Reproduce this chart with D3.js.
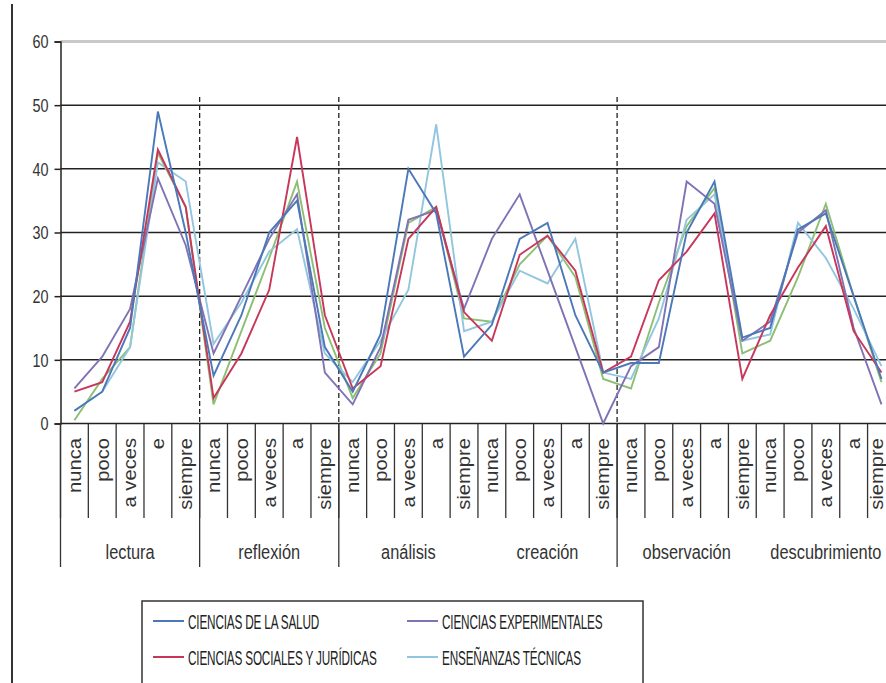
<!DOCTYPE html>
<html>
<head>
<meta charset="utf-8">
<script src="https://cdn.jsdelivr.net/npm/d3@7"></script>
<style>
  html, body { margin: 0; padding: 0; background: #fff; }
  svg { display: block; font-family: "Liberation Sans", Arial, sans-serif; }
</style>
</head>
<body>
<svg id="chart" width="886" height="683"></svg>
<script>
// ---------- data ----------
const groups = ["lectura", "reflexión", "análisis", "creación", "observación", "descubrimiento"];
const subLabels = [
  ["nunca", "poco", "a veces", "e", "siempre"],
  ["nunca", "poco", "a veces", "a", "siempre"],
  ["nunca", "poco", "a veces", "a", "siempre"],
  ["nunca", "poco", "a veces", "a", "siempre"],
  ["nunca", "poco", "a veces", "a", "siempre"],
  ["nunca", "poco", "a veces", "a", "siempre"]
];
const yTicks = [0, 10, 20, 30, 40, 50, 60];

const seriesNames = [
  "CIENCIAS DE LA SALUD",
  "CIENCIAS EXPERIMENTALES",
  "CIENCIAS SOCIALES Y JURÍDICAS",
  "ENSEÑANZAS TÉCNICAS",
  "HUMANIDADES"
];
const salud = [2, 5, 15, 49, 30,  7.5, 17, 30, 35, 12,  5, 14, 40, 33, 10.5,  15.5, 29, 31.5, 17, 8,  9.5, 9.5, 30, 38, 13.5,  15, 30.5, 33, 20, 7];
const experimentales = [5.5, 10.5, 18, 38.5, 28,  11, 20, 29, 36, 8,  3, 12, 32, 33.5, 18,  29, 36, 24, 12, 0,  9, 12, 38, 34.5, 13,  16, 30, 33.5, 15, 3];
const sociales = [5, 6.5, 16, 43, 34,  4, 11, 21, 45, 17,  5.5, 9, 29, 34, 17.5,  13, 26.5, 29.5, 24, 8,  10.5, 22.5, 27, 33, 7,  17, 24.5, 31, 14.5, 8];
const tecnicas = [2, 5, 12, 41, 38,  12.5, 19, 27, 30.5, 11,  6.5, 13, 21, 47, 14.5,  16, 24, 22, 29, 8,  7, 16.5, 32, 36, 13,  14, 31.5, 26, 18, 9];
const humanidades = [0.5, 7, 12, 42.5, 34,  3, 14.5, 26, 38, 15,  4, 11, 31.5, 34, 16.5,  16, 25, 29.5, 23, 7,  5.5, 19, 31, 37, 11,  13, 23, 34.5, 20, 6.5];

// ---------- styles / layout ----------
const colors = ["#4a78b8", "#8072b4", "#c8375a", "#92c6de", "#8cbf73"];
const seriesValues = [salud, experimentales, sociales, tecnicas, humanidades];
const drawOrder = [4, 3, 1, 2, 0];

const svg = d3.select("#chart");
const plotLeft = 60.5, plotRight = 60.5 + 30 * 27.83;
const yTop = 41.5, yBottom = 423.5;

const keys = [];
groups.forEach((g, gi) => subLabels[gi].forEach((s, si) => keys.push(gi + "|" + si)));

const x = d3.scaleBand().domain(keys).range([plotLeft, plotRight]).padding(0);
const y = d3.scaleLinear().domain([0, 60]).range([yBottom, yTop]);

// left frame line
svg.append("line").attr("x1", 12).attr("x2", 12).attr("y1", 4).attr("y2", 683)
  .attr("stroke", "#333").attr("stroke-width", 2);

// gridlines
svg.append("g").selectAll("line").data(yTicks.filter(t => t > 0)).join("line")
  .attr("x1", plotLeft).attr("x2", 886)
  .attr("y1", d => y(d)).attr("y2", d => y(d))
  .attr("stroke", d => d === 60 ? "#c9c9c9" : "#222")
  .attr("stroke-width", d => d === 60 ? 3 : 1.5);

// y axis
const yAxis = d3.axisLeft(y).tickValues(yTicks).tickSize(6).tickFormat(d3.format("d"));
const yg = svg.append("g").attr("transform", `translate(${plotLeft},0)`).call(yAxis);
yg.select(".domain").attr("stroke", "#222").attr("stroke-width", 1.5);
yg.selectAll(".tick line").attr("stroke", "#222").attr("stroke-width", 1.5);
yg.selectAll(".tick text")
  .attr("x", 0).attr("dy", "0.35em")
  .attr("transform", "translate(-12,0) scale(0.8,1)")
  .attr("font-size", 18).attr("fill", "#333")
  .attr("font-family", "Liberation Sans, Arial, sans-serif");

// x axis baseline
svg.append("line").attr("x1", plotLeft).attr("x2", 886).attr("y1", yBottom).attr("y2", yBottom)
  .attr("stroke", "#222").attr("stroke-width", 1.5);

// category tick lines (short) at every band boundary
const boundaries = keys.map(k => x(k));
svg.append("g").selectAll("line").data(boundaries).join("line")
  .attr("x1", d => d).attr("x2", d => d)
  .attr("y1", yBottom).attr("y2", 518)
  .attr("stroke", "#333").attr("stroke-width", 1.3);

// long separators
const longSep = [0, 5, 10, 20];
svg.append("g").selectAll("line").data(longSep).join("line")
  .attr("x1", d => x(keys[d])).attr("x2", d => x(keys[d]))
  .attr("y1", yBottom).attr("y2", 567)
  .attr("stroke", "#333").attr("stroke-width", 1.3);

// dashed separators in plot
const dashSep = [5, 10, 20];
svg.append("g").selectAll("line").data(dashSep).join("line")
  .attr("x1", d => x(keys[d])).attr("x2", d => x(keys[d]))
  .attr("y1", 97).attr("y2", yBottom)
  .attr("stroke", "#222").attr("stroke-width", 1.3)
  .attr("stroke-dasharray", "5,3");

// rotated subcategory labels (kept inside the visible width)
svg.append("g").selectAll("text").data(keys).join("text")
  .attr("transform", d => {
    const cx = Math.min(x(d) + x.bandwidth() / 2, 877);
    return `translate(${cx},438) rotate(-90) scale(1.12,1)`;
  })
  .attr("text-anchor", "end").attr("dy", "0.35em")
  .attr("font-size", 18).attr("fill", "#333")
  .text(d => { const [gi, si] = d.split("|").map(Number); return subLabels[gi][si]; });

// group labels
svg.append("g").selectAll("text").data(groups).join("text")
  .attr("transform", (g, gi) => {
    const cx = (x(keys[gi * 5]) + x(keys[gi * 5 + 4]) + x.bandwidth()) / 2;
    return `translate(${cx},559) scale(0.78,1)`;
  })
  .attr("text-anchor", "middle").attr("font-size", 21).attr("fill", "#333")
  .text(d => d);

// lines
const line = d3.line().x((v, i) => x(keys[i]) + x.bandwidth() / 2).y(v => y(v));
svg.append("g").selectAll("path").data(drawOrder).join("path")
  .attr("d", si => line(seriesValues[si]))
  .attr("fill", "none")
  .attr("stroke", si => colors[si])
  .attr("stroke-width", 1.9)
  .attr("stroke-linejoin", "miter");

// legend
const lg = svg.append("g");
lg.append("rect").attr("x", 142).attr("y", 601).attr("width", 501).attr("height", 100)
  .attr("fill", "#fff").attr("stroke", "#333").attr("stroke-width", 1.5);
const legendItems = [0, 1, 2, 3];
const lx = si => (si % 2 === 0 ? 153 : 407);
const ly = si => (si < 2 ? 621 : 657);
lg.selectAll("line.leg").data(legendItems).join("line")
  .attr("x1", si => lx(si)).attr("x2", si => lx(si) + 31)
  .attr("y1", si => ly(si)).attr("y2", si => ly(si))
  .attr("stroke", si => colors[si]).attr("stroke-width", 2);
lg.selectAll("text").data(legendItems).join("text")
  .attr("transform", si => `translate(${lx(si) + 35},${ly(si)}) scale(0.56,1)`)
  .attr("dy", "0.36em").attr("font-size", 21).attr("fill", "#222")
  .attr("letter-spacing", -0.3)
  .text(si => seriesNames[si]);
</script>
</body>
</html>
